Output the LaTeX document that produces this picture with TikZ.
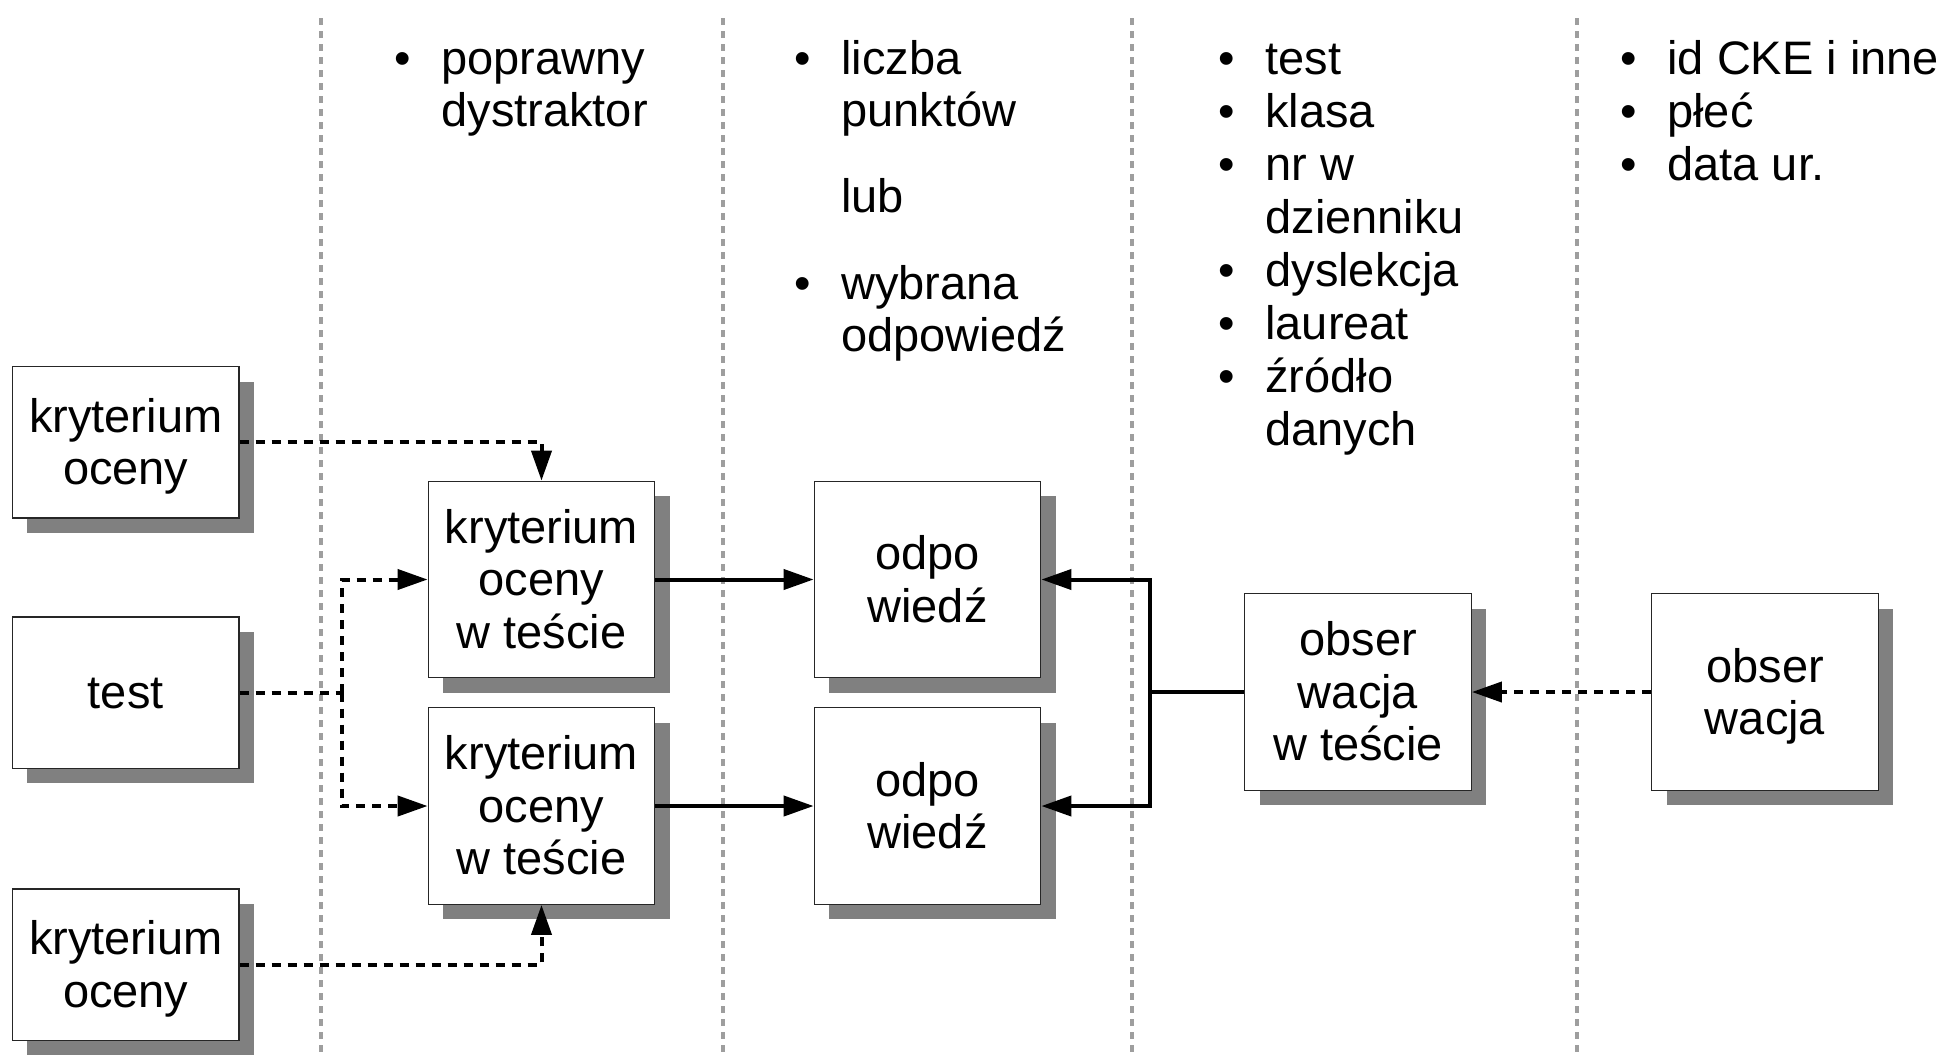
\documentclass[tikz,border=0pt]{standalone}
\usepackage{fontspec}
\setmainfont{Liberation Sans}
\usetikzlibrary{arrows.meta,shadows}
\newcommand\ls{\rule[-0.212em]{0pt}{1.117em}}
\newcommand\bul{\llap{•\hspace{15.15pt}}}
\begin{document}
\begin{tikzpicture}[x=0.5pt,y=-0.5pt,
  box/.style={draw=black!85, line width=0.6pt, fill=white, inner sep=0pt,
    minimum width=113.3pt, align=center,
    font=\fontsize{23.5pt}{26.25pt}\selectfont,
    drop shadow={shadow xshift=7.5pt, shadow yshift=-7.5pt, opacity=1, fill=black!50, draw=none}},
  smallbox/.style={box, minimum height=75.6pt},
  bigbox/.style={box, minimum height=98.3pt},
  lst/.style={anchor=north west, inner sep=0pt, align=left,
    font=\fontsize{23.5pt}{26.25pt}\selectfont},
  sep/.style={draw=black!38, line width=1.6pt, dash pattern=on 3.5pt off 3pt},
  dl/.style={line width=2pt, dash pattern=on 4.5pt off 3.5pt},
  sl/.style={line width=2pt},
  arr/.style={-{Triangle[length=15pt,width=10pt]}}
]
\useasboundingbox (0,0) rectangle (1947,1056);
% column separators
\draw[sep] (321,18) -- (321,1056);
\draw[sep] (723,18) -- (723,1056);
\draw[sep] (1132,18) -- (1132,1056);
\draw[sep] (1577,18) -- (1577,1056);

% boxes
\node[smallbox] (k1) at (125.75,442.3) {\ls kryterium\\\ls oceny};
\node[smallbox] (t)  at (125.75,692.5) {\ls test};
\node[smallbox] (k2) at (125.75,964.5) {\ls kryterium\\\ls oceny};
\node[bigbox] (kw1) at (541.5,579.5) {\ls kryterium\\\ls oceny\\\ls w teście};
\node[bigbox] (kw2) at (541.5,806) {\ls kryterium\\\ls oceny\\\ls w teście};
\node[bigbox] (o1) at (927.5,579.5) {\ls odpo\\\ls wiedź};
\node[bigbox] (o2) at (927.5,806) {\ls odpo\\\ls wiedź};
\node[bigbox] (ow) at (1358,692) {\ls obser\\\ls wacja\\\ls w teście};
\node[bigbox] (ob) at (1765,692) {\ls obser\\\ls wacja};

% text columns
\node[lst] (c2) at (441,31.5) {\bul\ls poprawny\\\ls dystraktor};
\node[lst] (c3) at (841,31.5) {\bul\ls liczba\\\ls punktów\\[16.75pt]\ls lub\\[17pt]\bul\ls wybrana\\\ls odpowiedź};
\node[lst, font=\fontsize{23.5pt}{26.5pt}\selectfont] (c4) at (1265,31.5)
  {\bul\ls test\\\bul\ls klasa\\\bul\ls nr w\\\ls dzienniku\\\bul\ls dyslekcja\\\bul\ls laureat\\\bul\ls źródło\\\ls danych};
\node[lst, font=\fontsize{23.5pt}{26.5pt}\selectfont] (c5) at (1667,31.5)
  {\bul\ls id CKE i inne\\\bul\ls płeć\\\bul\ls data ur.};

% connectors
\coordinate (tj) at (341.5,692.5);
\coordinate (oj) at (1150,692);
\draw[dl,arr] (k1.east) -| (kw1.north);
\draw[dl] (t.east) -- (tj);
\draw[dl,arr] (tj) |- (kw1.west);
\draw[dl,arr] (tj) |- (kw2.west);
\draw[dl,arr] (k2.east) -| (kw2.south);
\draw[sl,arr] (kw1) -- (o1);
\draw[sl,arr] (kw2) -- (o2);
\draw[sl] (ow.west) -- (oj);
\draw[sl,arr] (oj) |- (o1.east);
\draw[sl,arr] (oj) |- (o2.east);
\draw[dl,arr] (ob) -- (ow);
\end{tikzpicture}
\end{document}
